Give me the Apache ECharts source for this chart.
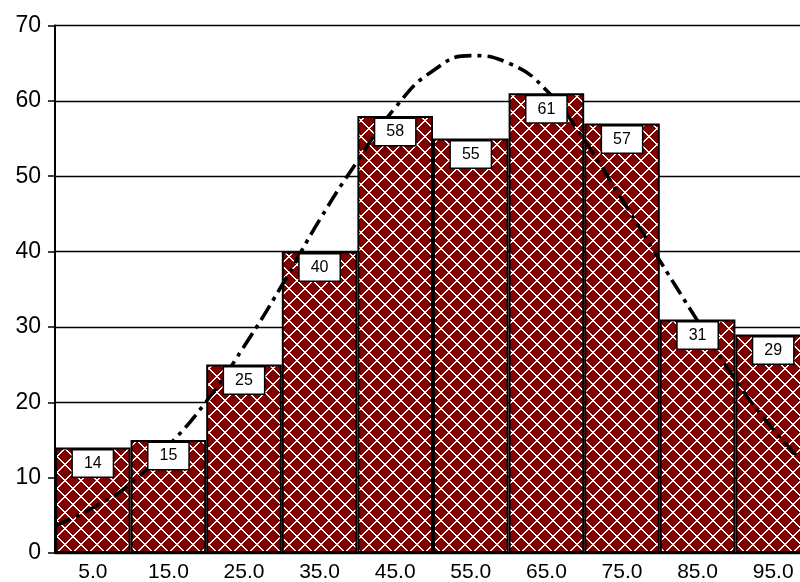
<!DOCTYPE html>
<html>
<head>
<meta charset="utf-8">
<script src="https://cdn.jsdelivr.net/npm/echarts@6/dist/echarts.min.js"></script>
<style>
  html, body { margin: 0; padding: 0; background: #fff; }
  #chart { width: 800px; height: 582px; }
</style>
</head>
<body>
<div id="chart"></div>
<script>
// Class midpoints of the histogram
const categories = ['5.0', '15.0', '25.0', '35.0', '45.0', '55.0', '65.0', '75.0', '85.0', '95.0'];
// Frequency of each class
const counts = [14, 15, 25, 40, 58, 55, 61, 57, 31, 29];
// Fitted normal curve, sampled along the value range
const curveX = [0, 5, 10, 15, 20, 25, 30, 35, 40, 45, 50, 55, 60, 65, 70, 75, 80, 85, 90, 95, 100];
const curveY = [3.6, 6.0, 9.2, 14.2, 20.1, 27.4, 35.5, 44.2, 52.0, 59.1, 64.0, 66.0, 65.0, 61.4, 54.8, 46.9, 38.8, 30.8, 23.0, 16.4, 11.0];
// Value-axis ticks
const yTicks = { min: 0, max: 70, step: 10 };

// Dark red fill with a white diamond lattice: stair-stepped diagonal bands
function makePattern() {
  const n = 16;
  const c = document.createElement('canvas');
  c.width = n; c.height = n;
  const g = c.getContext('2d');
  g.fillStyle = '#800000';
  g.fillRect(0, 0, n, n);
  g.fillStyle = '#ffffff';
  for (let y = 0; y < n; y++) {
    for (let x = 0; x < n; x++) {
      const s = (x + y) % n;
      const d = ((x - y) % n + n) % n;
      if (s === 0 || s === 1 || d === 0 || d === 1) {
        g.fillRect(x, y, 1, 1);
      }
    }
  }
  return c;
}

const font = "'Liberation Sans', Arial, sans-serif";
const chart = echarts.init(document.getElementById('chart'), null, { renderer: 'canvas' });

chart.setOption({
  animation: false,
  backgroundColor: '#ffffff',
  grid: { left: 55, top: 25.5, right: -11, bottom: 29, containLabel: false, outerBoundsMode: 'none' },
  xAxis: [
    {
      type: 'category',
      data: categories,
      boundaryGap: true,
      axisLine: { lineStyle: { color: '#000', width: 2 } },
      axisTick: { alignWithLabel: true, length: 5, lineStyle: { color: '#000', width: 1.5 } },
      axisLabel: { color: '#000', fontSize: 21, fontFamily: font, margin: 9 },
      splitLine: { show: false }
    },
    {
      type: 'value',
      min: 0,
      max: 100,
      show: false
    }
  ],
  yAxis: {
    type: 'value',
    min: yTicks.min,
    max: yTicks.max,
    interval: yTicks.step,
    axisLine: { show: true, lineStyle: { color: '#000', width: 2 } },
    axisTick: { show: true, length: 7, lineStyle: { color: '#000', width: 1.5 } },
    axisLabel: { color: '#000', fontSize: 23, fontFamily: font, margin: 14 },
    splitLine: { show: true, lineStyle: { color: '#000', width: 1.4 } }
  },
  series: [
    {
      name: 'freq',
      type: 'bar',
      data: counts,
      barCategoryGap: 0,
      barGap: '-100%',
      z: 2,
      itemStyle: {
        color: { image: makePattern(), repeat: 'repeat' },
        borderColor: '#000',
        borderWidth: 2
      }
    },
    {
      name: 'curve',
      type: 'line',
      xAxisIndex: 1,
      data: curveX.map((x, i) => [x, curveY[i]]),
      smooth: true,
      symbol: 'none',
      z: 3,
      lineStyle: { color: '#000', width: 3.6, type: [17, 6, 4, 6], cap: 'butt' }
    },
    {
      name: 'labels',
      type: 'bar',
      data: counts,
      barCategoryGap: 0,
      barGap: '-100%',
      z: 4,
      silent: true,
      itemStyle: { color: 'rgba(0,0,0,0)', borderWidth: 0 },
      label: {
        show: true,
        position: 'insideTop',
        distance: 3,
        color: '#000',
        fontSize: 16,
        fontFamily: font,
        lineHeight: 16,
        backgroundColor: '#ffffff',
        borderColor: '#000',
        borderWidth: 1.5,
        padding: [5, 11, 5, 11]
      }
    }
  ]
});
</script>
</body>
</html>
